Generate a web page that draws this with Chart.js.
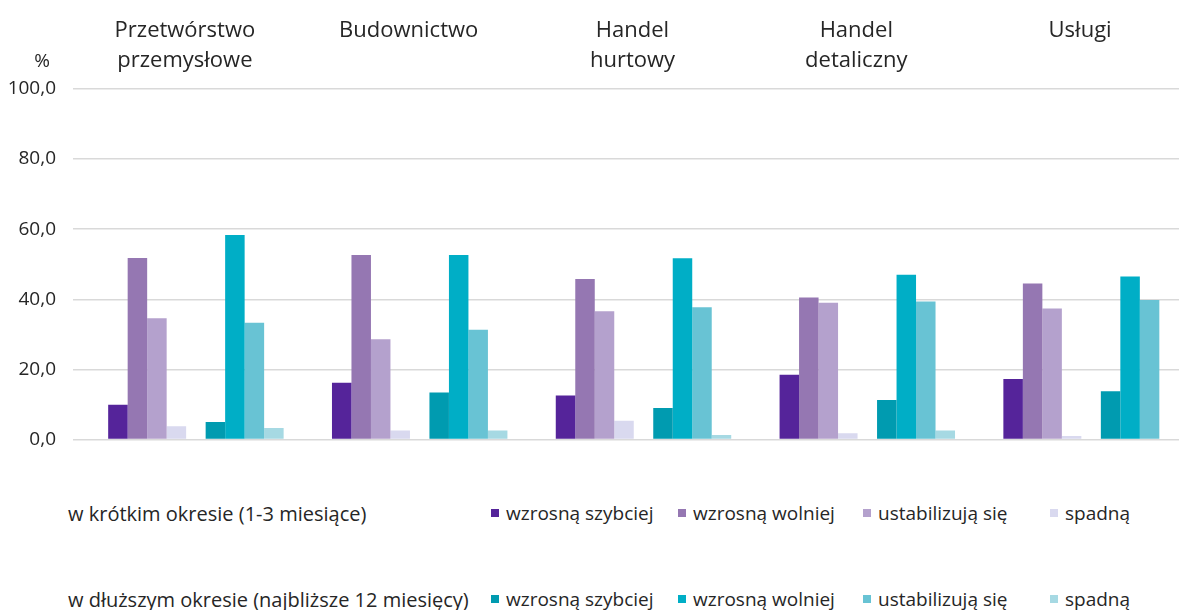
<!DOCTYPE html>
<html lang="pl">
<head>
<meta charset="utf-8">
<title>Oczekiwania przedsiębiorstw</title>
<script src="https://cdn.jsdelivr.net/npm/chart.js@4/dist/chart.umd.min.js"></script>
<style>
  html, body {
    margin: 0;
    padding: 0;
    background: #ffffff;
    overflow: hidden;
    font-family: "Open Sans", sans-serif;
    color: #262626;
  }
  #wrap {
    position: relative;
    width: 1203px;
    height: 610px;
  }
  #chartBox {
    position: absolute;
    left: 0;
    top: 0;
    width: 1203px;
    height: 468px;
  }
  .legend-row {
    position: absolute;
    left: 68px;
    display: grid;
    grid-template-columns: 423px 187px 185px 187px 130px;
    align-items: center;
    height: 30px;
    font-size: 19px;
    white-space: nowrap;
  }
  .legend-row .okres {
    font-size: 20px;
  }
  .legend-item {
    display: flex;
    align-items: center;
  }
  .legend-box {
    width: 8px;
    height: 8px;
    margin-right: 7px;
    flex: none;
  }
</style>
</head>
<body>
<div id="wrap">
  <div id="chartBox"><canvas id="oczekiwaniaChart"></canvas></div>
  <div id="legend"></div>
</div>

<script>
  // ----------------------------------------------------------
  // Dane (w %)
  // ----------------------------------------------------------
  const sekcje = [
    ["Przetwórstwo", "przemysłowe"],
    ["Budownictwo", ""],
    ["Handel", "hurtowy"],
    ["Handel", "detaliczny"],
    ["Usługi", ""],
  ];

  const yTicks = [0, 20, 40, 60, 80, 100];

  const etykietyOdpowiedzi = [
    "wzrosną szybciej",
    "wzrosną wolniej",
    "ustabilizują się",
    "spadną",
  ];

  const okresy = [
    "w krótkim okresie (1-3 miesiące)",
    "w dłuższym okresie (najbliższe 12 miesięcy)",
  ];

  // krótki okres (1-3 miesiące)
  const krotkiSzybciej = [9.9, 16.2, 12.6, 18.5, 17.3];
  const krotkiWolniej = [51.8, 52.6, 45.8, 40.5, 44.5];
  const krotkiStabil = [34.6, 28.6, 36.6, 39.0, 37.4];
  const krotkiSpadna = [3.8, 2.6, 5.4, 1.8, 1.0];

  // dłuższy okres (najbliższe 12 miesięcy)
  const dlugiSzybciej = [5.0, 13.4, 9.0, 11.3, 13.8];
  const dlugiWolniej = [58.3, 52.6, 51.7, 47.0, 46.5];
  const dlugiStabil = [33.3, 31.3, 37.7, 39.4, 39.8];
  const dlugiSpadna = [3.3, 2.6, 1.3, 2.6, 0];

  // pusta seria = odstęp między grupami słupków
  const odstep = [null, null, null, null, null];

  const koloryKrotki = ["#55249a", "#9577b2", "#b4a1cd", "#d9d9ef"];
  const koloryDlugi = ["#009bb0", "#00aec6", "#68c3d4", "#a6d9e3"];

  // ----------------------------------------------------------
  // 1) Serie dla Chart.js
  // ----------------------------------------------------------
  function seria(label, data, kolor, okres) {
    return {
      label: label,
      data: data,
      backgroundColor: kolor,
      borderWidth: 0,
      okres: okres,
    };
  }

  const krotkie = [krotkiSzybciej, krotkiWolniej, krotkiStabil, krotkiSpadna];
  const dlugie = [dlugiSzybciej, dlugiWolniej, dlugiStabil, dlugiSpadna];

  const datasets = [];
  krotkie.forEach((d, i) =>
    datasets.push(seria(etykietyOdpowiedzi[i], d, koloryKrotki[i], 0))
  );
  datasets.push(seria("", odstep, "rgba(0,0,0,0)", null));
  dlugie.forEach((d, i) =>
    datasets.push(seria(etykietyOdpowiedzi[i], d, koloryDlugi[i], 1))
  );

  // ----------------------------------------------------------
  // 2) Plugin: znak "%" nad osią Y
  // ----------------------------------------------------------
  const procentPlugin = {
    id: "procent",
    afterDraw(chart) {
      const y = chart.scales.y;
      const ctx = chart.ctx;
      ctx.save();
      ctx.font = "19px 'Open Sans'";
      ctx.fillStyle = "#262626";
      ctx.textAlign = "center";
      ctx.textBaseline = "middle";
      ctx.fillText("%", chart.chartArea.left - 42, y.getPixelForValue(100) - 27);
      ctx.restore();
    },
  };

  // ----------------------------------------------------------
  // 3) Wykres
  // ----------------------------------------------------------
  const ctx = document.getElementById("oczekiwaniaChart").getContext("2d");
  const chart = new Chart(ctx, {
    type: "bar",
    data: {
      labels: sekcje,
      datasets: datasets,
    },
    options: {
      responsive: true,
      maintainAspectRatio: false,
      animation: false,
      layout: {
        padding: { top: 3, bottom: 15, left: 0, right: 0 },
      },
      datasets: {
        bar: {
          barPercentage: 1.0,
          categoryPercentage: 0.784,
        },
      },
      plugins: {
        legend: { display: false },
        tooltip: { enabled: false },
      },
      scales: {
        x: {
          position: "top",
          grid: { display: false, drawTicks: false, tickLength: 0 },
          border: { display: false },
          ticks: {
            color: "#262626",
            font: { family: "'Open Sans'", size: 22, lineHeight: 1.36 },
            padding: 13,
            labelOffset: -11,
            maxRotation: 0,
            autoSkip: false,
          },
        },
        y: {
          min: 0,
          max: 100,
          afterFit(scale) {
            scale.width = 84;
          },
          afterBuildTicks(scale) {
            scale.ticks = yTicks.map((v) => ({ value: v }));
          },
          grid: {
            color: "#d9d9d9",
            lineWidth: 1.5,
            drawTicks: true,
            tickLength: 11,
          },
          border: { display: false },
          ticks: {
            color: "#262626",
            font: { family: "'Open Sans'", size: 19 },
            padding: 17,
            callback: (v) => v.toFixed(1).replace(".", ","),
          },
        },
      },
    },
    plugins: [procentPlugin],
  });

  // ----------------------------------------------------------
  // 4) Legenda HTML (dwa wiersze: krótki / dłuższy okres)
  // ----------------------------------------------------------
  function budujLegende(chart) {
    const legend = document.getElementById("legend");
    legend.innerHTML = "";
    const topy = [498, 584];

    okresy.forEach((nazwa, o) => {
      const row = document.createElement("div");
      row.className = "legend-row";
      row.style.top = topy[o] + "px";

      const opis = document.createElement("span");
      opis.className = "okres";
      opis.textContent = nazwa;
      row.appendChild(opis);

      chart.data.datasets
        .filter((ds) => ds.okres === o)
        .forEach((ds) => {
          const item = document.createElement("span");
          item.className = "legend-item";
          const box = document.createElement("span");
          box.className = "legend-box";
          box.style.background = ds.backgroundColor;
          const txt = document.createElement("span");
          txt.textContent = ds.label;
          item.appendChild(box);
          item.appendChild(txt);
          row.appendChild(item);
        });

      legend.appendChild(row);
    });
  }

  budujLegende(chart);
</script>
</body>
</html>
